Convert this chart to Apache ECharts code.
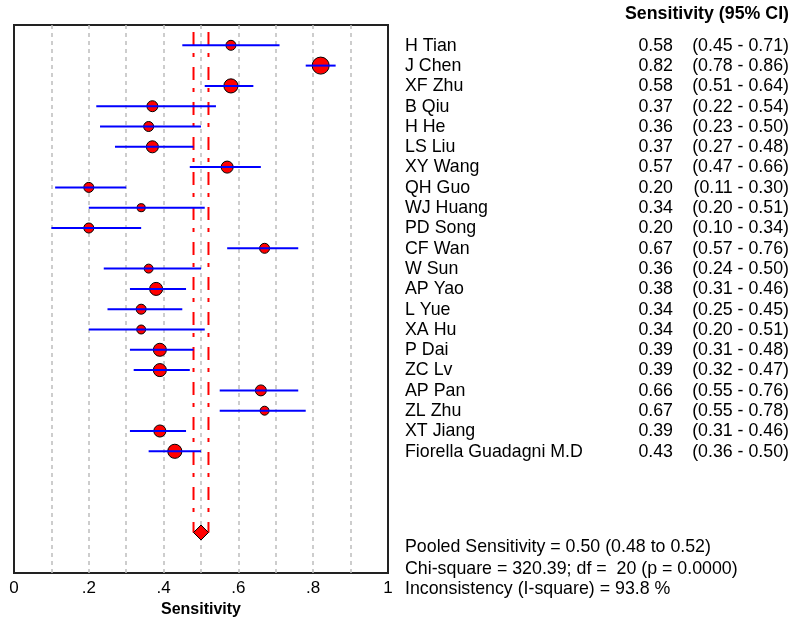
<!DOCTYPE html>
<html>
<head>
<meta charset="utf-8">
<script src="https://cdn.jsdelivr.net/npm/echarts@6/dist/echarts.min.js"></script>
<style>
html,body{margin:0;padding:0;background:#fff;}
#chart{width:790px;height:623px;}
</style>
</head>
<body>
<div id="chart"></div>
<script>
// ---- data ----
const studies = ["H Tian","J Chen","XF Zhu","B Qiu","H He","LS Liu","XY Wang","QH Guo","WJ Huang","PD Song","CF Wan","W Sun","AP Yao","L Yue","XA Hu","P Dai","ZC Lv","AP Pan","ZL Zhu","XT Jiang","Fiorella Guadagni M.D"];
const sens  = [0.58,0.82,0.58,0.37,0.36,0.37,0.57,0.20,0.34,0.20,0.67,0.36,0.38,0.34,0.34,0.39,0.39,0.66,0.67,0.39,0.43];
const ciLow = [0.45,0.78,0.51,0.22,0.23,0.27,0.47,0.11,0.20,0.10,0.57,0.24,0.31,0.25,0.20,0.31,0.32,0.55,0.55,0.31,0.36];
const ciHigh= [0.71,0.86,0.64,0.54,0.50,0.48,0.66,0.30,0.51,0.34,0.76,0.50,0.46,0.45,0.51,0.48,0.47,0.76,0.78,0.46,0.50];
const weights=[1.0,2.9,2.0,1.2,1.0,1.45,1.45,1.0,0.65,1.0,1.0,0.8,1.7,1.0,0.8,1.7,1.7,1.2,0.8,1.45,2.0];
const pooledEst = 0.50, pooledLow = 0.48, pooledHigh = 0.52;
const chiSquare = "320.39", dfValue = 20, pValue = "0.0000", iSquare = "93.8";
const xTicks = [0,0.2,0.4,0.6,0.8,1];
const pooledRow = 24;

const FONT = '"Liberation Sans", Arial, sans-serif';
const FS = 17.8;
const chart = echarts.init(document.getElementById('chart'), null, {renderer:'canvas'});

const rowIdx = studies.map((_, i) => i);

function fmtTick(v){
  const r = Math.round(v*10);
  if (!xTicks.some(t => Math.round(t*10) === r)) return '';
  if (r === 0) return '0';
  if (r === 10) return '1';
  return '.' + r;
}

const option = {
  animation:false,
  backgroundColor:'#fff',
  grid:{left:14, right:402, top:25, bottom:45, show:true, borderColor:'#222', borderWidth:2, backgroundColor:'transparent'},
  xAxis:{
    type:'value', min:0, max:1, interval:0.1,
    name:'Sensitivity', nameLocation:'middle', nameGap:27,
    nameTextStyle:{fontFamily:FONT, fontSize:16, fontWeight:'bold', color:'#000'},
    axisLine:{show:false}, axisTick:{show:false},
    axisLabel:{formatter:fmtTick, fontFamily:FONT, fontSize:17, color:'#000', margin:7, showMinLabel:true, showMaxLabel:true},
    splitLine:{show:true, showMinLine:false, showMaxLine:false, lineStyle:{color:'#bdbdbd', width:1.5, type:[4,4]}}
  },
  yAxis:{type:'value', min:-1, max:26, inverse:true, show:false},
  series:[
    {
      type:'custom', z:3, clip:false,
      data:[[pooledLow, pooledHigh]],
      renderItem:function(params, api){
        const lines = [];
        [api.value(0), api.value(1)].forEach(function(v){
          const p0 = api.coord([v, -0.65]);
          const p1 = api.coord([v, pooledRow]);
          lines.push({type:'line', shape:{x1:p0[0], y1:p0[1], x2:p1[0], y2:p1[1]},
            style:{stroke:'#ff0000', lineWidth:2, lineDash:[13,8,4,10]}});
        });
        return {type:'group', children:lines};
      }
    },
    {
      type:'scatter', z:4,
      data: sens.map((v,i) => [v, i, weights[i]]),
      symbol:'circle',
      symbolSize:function(d){ return 10*Math.sqrt(d[2]); },
      itemStyle:{color:'#ff0000', borderColor:'#000', borderWidth:1, opacity:1}
    },
    {
      type:'custom', z:5, clip:false,
      data: ciLow.map((v,i) => [v, ciHigh[i], i]),
      renderItem:function(params, api){
        const a = api.coord([api.value(0), api.value(2)]);
        const b = api.coord([api.value(1), api.value(2)]);
        return {type:'line', shape:{x1:a[0], y1:a[1], x2:b[0], y2:b[1]},
          style:{stroke:'#0000ff', lineWidth:2}};
      }
    },
    {
      type:'custom', z:6, clip:false,
      data:[[pooledLow, pooledEst, pooledHigh, pooledRow]],
      renderItem:function(params, api){
        const l = api.coord([api.value(0), api.value(3)]);
        const c = api.coord([api.value(1), api.value(3)]);
        const r = api.coord([api.value(2), api.value(3)]);
        const h = 7.5;
        return {type:'polygon', shape:{points:[[l[0],c[1]],[c[0],c[1]-h],[r[0],c[1]],[c[0],c[1]+h]]},
          style:{fill:'#ff0000', stroke:'#000', lineWidth:1}};
      }
    },
    {
      type:'custom', z:6, clip:false,
      data: rowIdx.map(i => [0, i]),
      renderItem:function(params, api){
        const i = params.dataIndex;
        const y = api.coord([0, api.value(1)])[1] + 0.5;
        const base = {fontFamily:FONT, fontSize:FS, fill:'#000', textVerticalAlign:'middle', verticalAlign:'middle'};
        return {type:'group', children:[
          {type:'text', style:Object.assign({}, base, {text:studies[i], x:405, y:y, textAlign:'left', align:'left'})},
          {type:'text', style:Object.assign({}, base, {text:sens[i].toFixed(2), x:673, y:y, textAlign:'right', align:'right'})},
          {type:'text', style:Object.assign({}, base, {text:'(' + ciLow[i].toFixed(2) + ' - ' + ciHigh[i].toFixed(2) + ')', x:789, y:y, textAlign:'right', align:'right'})}
        ]};
      }
    }
  ],
  graphic:[
    {type:'text', right:1, top:5, style:{text:'Sensitivity (95% CI)', fontFamily:FONT, fontSize:FS, fontWeight:'bold', fill:'#000'}},
    {type:'text', left:405, top:538, style:{text:'Pooled Sensitivity = ' + pooledEst.toFixed(2) + ' (' + pooledLow.toFixed(2) + ' to ' + pooledHigh.toFixed(2) + ')', fontFamily:FONT, fontSize:FS, fill:'#000'}},
    {type:'text', left:405, top:560, style:{text:'Chi-square = ' + chiSquare + '; df =  ' + dfValue + ' (p = ' + pValue + ')', fontFamily:FONT, fontSize:FS, fill:'#000'}},
    {type:'text', left:405, top:580, style:{text:'Inconsistency (I-square) = ' + iSquare + ' %', fontFamily:FONT, fontSize:FS, fill:'#000'}}
  ]
};
chart.setOption(option);
</script>
</body>
</html>
